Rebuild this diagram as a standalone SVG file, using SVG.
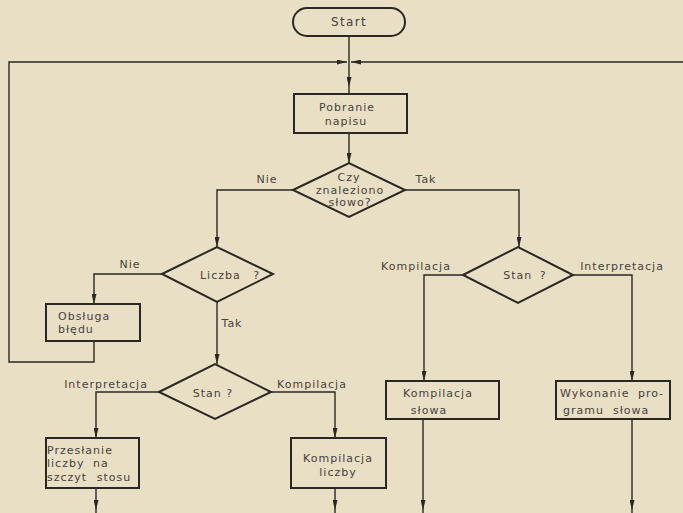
<svg xmlns="http://www.w3.org/2000/svg" width="683" height="513" viewBox="0 0 683 513">
<defs>
<style>
.bg{fill:#e9dfc5}
.shape{fill:none;stroke:#2a2825;stroke-width:2}
.conn{fill:none;stroke:#2a2825;stroke-width:1.4}
text{font-family:"DejaVu Sans","Liberation Sans",sans-serif;font-size:11px;fill:#46423c;letter-spacing:1px}
.c{text-anchor:middle}
</style>
<marker id="arr" viewBox="0 0 10 5" markerWidth="10" markerHeight="5" refX="10" refY="2.5" orient="auto" markerUnits="userSpaceOnUse">
<path d="M0,0 L10,2.5 L0,5 z" fill="#2a2825"/>
</marker>
</defs>
<rect class="bg" x="0" y="0" width="683" height="513"/>
<g id="connectors">
<path class="conn" d="M349,36 V62"/>
<path class="conn" d="M349,62 V87" marker-end="url(#arr)"/>
<path class="conn" d="M349,87 V94"/>
<path class="conn" d="M349,133 V163" marker-end="url(#arr)"/>
<path class="conn" d="M293,190 H217 V247" marker-end="url(#arr)"/>
<path class="conn" d="M405,190 H519 V247" marker-end="url(#arr)"/>
<path class="conn" d="M162,274 H94 V304" marker-end="url(#arr)"/>
<path class="conn" d="M94,341 V362 H9 V62 H347" marker-end="url(#arr)"/>
<path class="conn" d="M683,62 H351" marker-end="url(#arr)"/>
<path class="conn" d="M217,302 V364" marker-end="url(#arr)"/>
<path class="conn" d="M159,392 H96 V438" marker-end="url(#arr)"/>
<path class="conn" d="M271,392 H335 V438" marker-end="url(#arr)"/>
<path class="conn" d="M463,275 H424 V381" marker-end="url(#arr)"/>
<path class="conn" d="M573,275 H632 V381" marker-end="url(#arr)"/>
<path class="conn" d="M96,488 V510" marker-end="url(#arr)"/>
<path class="conn" d="M335,488 V510" marker-end="url(#arr)"/>
<path class="conn" d="M423,419 V510" marker-end="url(#arr)"/>
<path class="conn" d="M632,419 V510" marker-end="url(#arr)"/>
<path class="conn" d="M96,510 V513 M335,510 V513 M423,510 V513 M632,510 V513"/>
<text class="c" x="267" y="183">Nie</text>
<text class="c" x="426" y="183">Tak</text>
<text class="c" x="130" y="268">Nie</text>
<text class="c" x="232" y="327">Tak</text>
<text class="c" x="106" y="388">Interpretacja</text>
<text class="c" x="312" y="388">Kompilacja</text>
<text class="c" x="416" y="270">Kompilacja</text>
<text class="c" x="622" y="270">Interpretacja</text>
</g>
<g id="start">
<rect class="shape" x="293" y="8" width="112" height="28" rx="14"/>
<text class="c" x="349" y="26" style="font-size:12px;letter-spacing:1.3px">Start</text>
</g>
<g id="pobranie">
<rect class="shape" x="294" y="94" width="113" height="39"/>
<text class="c" x="347" y="111">Pobranie</text>
<text class="c" x="346" y="125">napisu</text>
</g>
<g id="czy">
<polygon class="shape" points="293,190 349,163 405,190 349,217"/>
<text class="c" x="349" y="181">Czy</text>
<text class="c" x="350" y="194">znaleziono</text>
<text class="c" x="350" y="206">słowo?</text>
</g>
<g id="liczba">
<polygon class="shape" points="162,274 217,247 273,274 217,302"/>
<text class="c" x="230" y="279" style="word-spacing:8px">Liczba ?</text>
</g>
<g id="obsluga">
<rect class="shape" x="46" y="304" width="94" height="37"/>
<text x="58" y="320">Obsługa</text>
<text x="58" y="333">błędu</text>
</g>
<g id="stan1">
<polygon class="shape" points="159,392 215,364 271,392 215,419"/>
<text class="c" x="213" y="397">Stan ?</text>
</g>
<g id="stan2">
<polygon class="shape" points="463,275 518,247 573,275 518,303"/>
<text class="c" x="525" y="279" style="word-spacing:3px">Stan ?</text>
</g>
<g id="przeslanie">
<rect class="shape" x="46" y="438" width="93" height="50"/>
<text x="47" y="454">Przesłanie</text>
<text x="47" y="467" style="word-spacing:4px">liczby na</text>
<text x="47" y="481" style="word-spacing:5px">szczyt stosu</text>
</g>
<g id="kompilacja-liczby">
<rect class="shape" x="291" y="438" width="95" height="50"/>
<text class="c" x="338" y="462">Kompilacja</text>
<text class="c" x="338" y="476">liczby</text>
</g>
<g id="kompilacja-slowa">
<rect class="shape" x="386" y="381" width="113" height="38"/>
<text class="c" x="438" y="397">Kompilacja</text>
<text class="c" x="429" y="414">słowa</text>
</g>
<g id="wykonanie">
<rect class="shape" x="556" y="381" width="114" height="38"/>
<text x="560" y="397" style="word-spacing:4px">Wykonanie pro-</text>
<text y="414"><tspan x="563">gramu</tspan><tspan x="613">słowa</tspan></text>
</g>
</svg>
